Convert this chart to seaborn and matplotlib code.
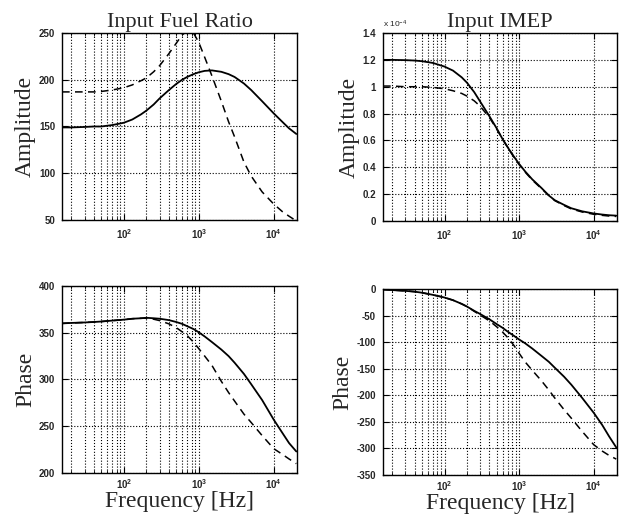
### Frequency response of the engine model: amplitude and phase for two inputs
import matplotlib
matplotlib.use("Agg")
import matplotlib.pyplot as plt
import matplotlib.ticker as mticker
import seaborn as sns

# frequency points [Hz]
freq = [15, 20, 30, 40, 50, 70, 100, 130, 170, 200, 250, 300, 400, 500, 600, 700, 850,
        1000, 1200, 1500, 2000, 2500, 3000, 4000, 5000, 7000, 10000, 13000, 16000, 20000]

# Input Fuel Ratio - amplitude (solid / dashed)
fuel_amp_solid = [149, 149, 149.5, 150, 150, 151.5, 154, 157.5, 163, 167, 173.5, 180, 189,
                  195.5, 200, 203, 206, 208, 209.5, 210, 208.5, 206, 203, 196, 189, 177,
                  164, 155, 148, 142]
fuel_amp_dash = [187, 187, 187, 187, 187.5, 189, 191.5, 194.5, 199, 202, 208.5, 215, 228,
                 239, 248, 252, 250, 240, 224, 204, 177, 155, 139, 112, 97, 80,
                 67, 59, 54, 49]

# Input IMEP - amplitude, in units of 1e-4
imep_amp_solid = [1.20, 1.20, 1.198, 1.195, 1.19, 1.177, 1.15, 1.12, 1.07, 1.03, 0.96, 0.89,
                  0.78, 0.69, 0.61, 0.55, 0.48, 0.425, 0.37, 0.31, 0.245, 0.19, 0.155, 0.12,
                  0.095, 0.072, 0.056, 0.048, 0.043, 0.04]
imep_amp_dash = [1.005, 1.005, 1.0, 1.0, 1.0, 0.995, 0.985, 0.97, 0.95, 0.93, 0.895, 0.855,
                 0.77, 0.685, 0.61, 0.55, 0.475, 0.42, 0.365, 0.305, 0.24, 0.19, 0.152, 0.115,
                 0.09, 0.067, 0.05, 0.042, 0.037, 0.034]

# Input Fuel Ratio - phase
fuel_ph_solid = [360, 360.5, 361, 361.5, 362, 363, 364, 365, 365.5, 366, 365.5, 365, 363.5,
                 361.5, 359.5, 357, 354, 350.5, 346, 340, 332, 325, 318, 306, 295, 278,
                 257, 243, 232, 223]
fuel_ph_dash = [360, 360.5, 361, 361.5, 362, 363, 364, 365, 365.5, 365.5, 364.5, 363, 359.5,
                355.5, 351, 347, 340, 333, 325, 315, 298, 286, 277, 263, 254, 240,
                226, 220, 215, 210]

# Input IMEP - phase
imep_ph_solid = [-1, -2, -3.5, -5, -7, -11, -16, -21, -28, -33, -41, -47, -57, -66, -73, -80,
                 -88, -95, -102, -112, -126, -137, -148, -165, -180, -205, -233, -256, -277, -298]
imep_ph_dash = [-1, -2, -3.5, -5, -7, -11, -16, -21, -28, -33, -42, -49, -60, -71, -81, -91,
                -106, -121, -137, -153, -173, -190, -205, -227, -243, -268, -293, -305, -313, -320]

titles = ["Input Fuel Ratio", "Input IMEP"]
minor_x = [20, 30, 40, 50, 60, 70, 80, 90, 200, 300, 400, 500, 600, 700, 800, 900]

sns.set_style("ticks")
plt.rcParams['font.family'] = ['Liberation Sans', 'DejaVu Sans']
plt.rcParams['mathtext.default'] = 'regular'
serif = 'Liberation Serif'

fig = plt.figure(figsize=(6.22, 5.2), dpi=100)
rects = [[0.0997, 0.577, 0.378, 0.3595],
         [0.6158, 0.575, 0.3762, 0.3615],
         [0.0997, 0.0904, 0.378, 0.3596],
         [0.6158, 0.0865, 0.3762, 0.3577]]
axs = [fig.add_axes(r) for r in rects]

panels = [(fuel_amp_solid, fuel_amp_dash, (50, 250), [50, 100, 150, 200, 250]),
          (imep_amp_solid, imep_amp_dash, (0, 1.4), [0, 0.2, 0.4, 0.6, 0.8, 1.0, 1.2, 1.4]),
          (fuel_ph_solid, fuel_ph_dash, (200, 400), [200, 250, 300, 350, 400]),
          (imep_ph_solid, imep_ph_dash, (-350, 0), list(range(-350, 1, 50)))]

for i, (ax, (solid, dash, ylim, yt)) in enumerate(zip(axs, panels)):
    sns.lineplot(x=freq, y=solid, ax=ax, color='k', lw=1.3)
    sns.lineplot(x=freq, y=dash, ax=ax, color='k', lw=1.1, linestyle=(0, (5, 3.5)))
    ax.set_xscale('log')
    ax.set_xlim(15, 20500)
    ax.set_ylim(*ylim)
    ax.set_yticks(yt)
    ax.yaxis.set_major_formatter(mticker.FuncFormatter(lambda v, p: f"{v:g}"))
    ax.xaxis.set_major_locator(mticker.FixedLocator([100, 1000, 10000]))
    ax.xaxis.set_minor_locator(mticker.FixedLocator(minor_x))
    ax.xaxis.set_minor_formatter(mticker.NullFormatter())
    ax.grid(True, which='major', linestyle=':', color='k', lw=0.8)
    ax.grid(True, which='minor', axis='x', linestyle=':', color='k', lw=0.8)
    ax.tick_params(which='both', direction='in', top=True, right=True, color='k')
    ax.tick_params(which='major', length=4, labelsize=7, pad=5)
    ax.tick_params(which='minor', length=2)
    for lab in ax.get_xticklabels() + ax.get_yticklabels():
        lab.set_fontweight('bold')
    for s in ax.spines.values():
        s.set_color('k')
        s.set_linewidth(1.0)
    if i < 2:
        ax.set_title(titles[i], fontsize=16, family=serif, pad=4)
        ax.set_ylabel("Amplitude", fontsize=17, family=serif, labelpad=2)
    else:
        ax.tick_params(axis='x', which='major', pad=3)
        ax.set_ylabel("Phase", fontsize=17, family=serif, labelpad=2)
        ax.set_xlabel("Frequency [Hz]", fontsize=17, family=serif, labelpad=0)

axs[1].text(0.0, 1.015, "x 10$^{-4}$", transform=axs[1].transAxes, fontsize=6,
            ha='left', va='bottom')

plt.savefig('out.png', dpi=100)
